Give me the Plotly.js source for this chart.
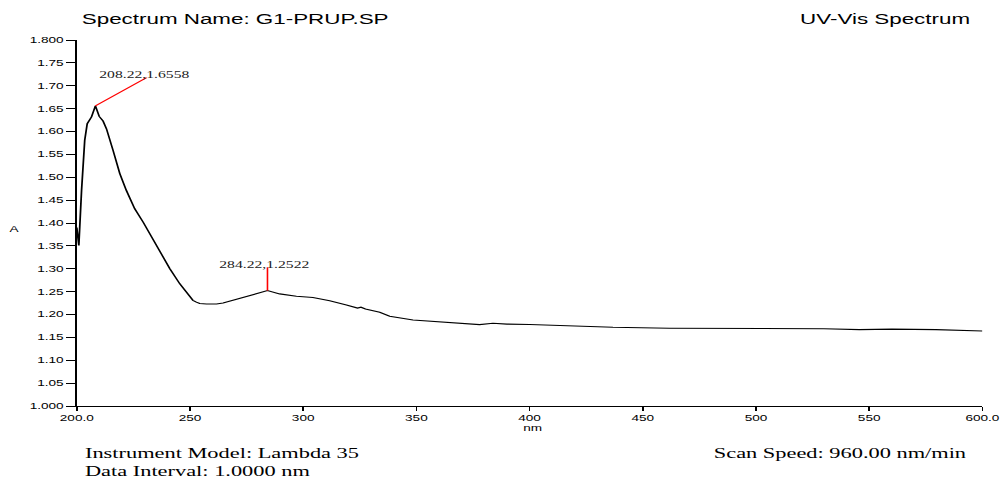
<!DOCTYPE html>
<html><head><meta charset="utf-8">
<script src="https://cdn.plot.ly/plotly-3.0.1.min.js"></script>
<style>
html,body{margin:0;padding:0;background:#fff;overflow:hidden;width:1000px;height:479px;}
#wrap{width:1000px;height:479px;overflow:hidden;position:relative;}
#chart{width:625px;height:479px;transform:scaleX(1.6);transform-origin:0 0;}
</style></head><body><div id="wrap"><div id="chart"></div></div>
<script>
const wavelength = [200, 200.9, 202.1, 203.5, 204.6, 206.5, 208.22, 209.9, 211.6, 213.1,
  216.0, 219.0, 221.9, 225.6, 229.3, 232.2, 236.6, 241.1, 245.5, 248.4,
  249.9, 251.3, 252.8, 254.3, 257.3, 261.7, 264.6, 267.5, 270.5, 274.9,
  279.3, 284.22, 289.6, 297.0, 304.3, 311.7, 319.1, 324.0, 325.5, 327.5,
  333.8, 338.2, 348.5, 363.2, 372.0, 377.9, 383.8, 390.0, 400.0, 422.0,
  436.8, 461.8, 490.0, 516.3, 530.0, 545.7, 560.0, 579.5, 592.8, 600.0];
const absorbance = [1.390, 1.351, 1.471, 1.581, 1.617, 1.632, 1.6558, 1.633, 1.623, 1.606,
  1.559, 1.508, 1.471, 1.431, 1.402, 1.376, 1.340, 1.300, 1.267, 1.248,
  1.237, 1.231, 1.227, 1.224, 1.223, 1.223, 1.225, 1.229, 1.234, 1.240,
  1.246, 1.2522, 1.245, 1.240, 1.237, 1.230, 1.221, 1.214, 1.216, 1.212,
  1.205, 1.196, 1.188, 1.183, 1.181, 1.178, 1.181, 1.179, 1.178, 1.174,
  1.172, 1.170, 1.170, 1.169, 1.169, 1.167, 1.168, 1.167, 1.164, 1.164];
const peakWavelength = [208.22, 284.22];
const peakAbsorbance = [1.6558, 1.2522];
const peakLabels = ['208.22,1.6558', '284.22,1.2522'];
const xTickVals = [200, 250, 300, 350, 400, 450, 500, 550, 600];
const xTickText = ['200.0', '250', '300', '350', '400', '450', '500', '550', '600.0'];
const yTickVals = [1.00, 1.05, 1.10, 1.15, 1.20, 1.25, 1.30, 1.35, 1.40, 1.45, 1.50, 1.55, 1.60, 1.65, 1.70, 1.75, 1.80];
const yTickText = ['1.000', '1.05', '1.10', '1.15', '1.20', '1.25', '1.30', '1.35', '1.40', '1.45', '1.50', '1.55', '1.60', '1.65', '1.70', '1.75', '1.800'];

// leader-line and label offsets (nm, A) relative to each peak
const leaderOffset = [[22.6, 0.0618], [0, 0.051]];
const labelOffset = [[21.2, 0.0688], [-1.2, 0.058]];

const sans = 'Liberation Sans, Arial, sans-serif';
const serif = 'Liberation Serif, Times New Roman, serif';

const shapes = peakWavelength.map((w, i) => ({
  type: 'line', xref: 'x', yref: 'y',
  x0: w, y0: peakAbsorbance[i],
  x1: w + leaderOffset[i][0], y1: peakAbsorbance[i] + leaderOffset[i][1],
  line: {color: '#ff0000', width: 1}
}));

const annotations = peakWavelength.map((w, i) => ({
  xref: 'x', yref: 'y', x: w + labelOffset[i][0], y: peakAbsorbance[i] + labelOffset[i][1],
  text: peakLabels[i], showarrow: false, xanchor: 'center', yanchor: 'middle',
  font: {family: serif, size: 9.8, color: '#222'}
}));

function note(text, x, y, xanchor, font) {
  return {xref: 'paper', yref: 'paper', x: x, y: y, text: text, showarrow: false,
    xanchor: xanchor, yanchor: 'middle', font: font};
}
const titleFont = {family: sans, size: 14, color: '#000'};
const infoFont = {family: serif, size: 14, color: '#000'};
annotations.push(
  note('Spectrum Name: G1-PRUP.SP', 0.001, 1.0574, 'left', titleFont),
  note('UV-Vis Spectrum', 0.9889, 1.0574, 'right', titleFont),
  note('A', -0.0684, 0.4836, 'center', {family: sans, size: 8.5, color: '#000'}),
  note('nm', 0.5033, -0.0601, 'center', {family: sans, size: 8.5, color: '#000'}),
  note('Instrument Model: Lambda 35', 0.0055, -0.1311, 'left', infoFont),
  note('Data Interval: 1.0000 nm', 0.0055, -0.1803, 'left', infoFont),
  note('Scan Speed: 960.00 nm/min', 0.9857, -0.1311, 'right', infoFont)
);

const trace = {
  x: wavelength, y: absorbance, type: 'scatter', mode: 'lines',
  line: {color: '#000', width: 1.1}, hoverinfo: 'skip'
};

const layout = {
  width: 625, height: 479,
  margin: {l: 48.125, r: 10.625, t: 40, b: 73, pad: 0},
  paper_bgcolor: '#fff', plot_bgcolor: '#fff',
  showlegend: false,
  xaxis: {
    range: [200, 600], tickmode: 'array', tickvals: xTickVals, ticktext: xTickText,
    showgrid: false, zeroline: false, showline: true, linecolor: '#000', linewidth: 1,
    ticks: 'outside', ticklen: 4, tickcolor: '#000', tickwidth: 1,
    tickfont: {family: sans, size: 8.5, color: '#000'}, fixedrange: true
  },
  yaxis: {
    range: [1.0, 1.8], tickmode: 'array', tickvals: yTickVals, ticktext: yTickText,
    showgrid: false, zeroline: false, showline: true, linecolor: '#000', linewidth: 1,
    ticks: 'outside', ticklen: 5.5, tickcolor: '#000', tickwidth: 1,
    tickfont: {family: sans, size: 8.5, color: '#000'}, fixedrange: true
  },
  shapes: shapes,
  annotations: annotations
};

Plotly.newPlot('chart', [trace], layout, {displayModeBar: false, staticPlot: true});
</script>
</body></html>
